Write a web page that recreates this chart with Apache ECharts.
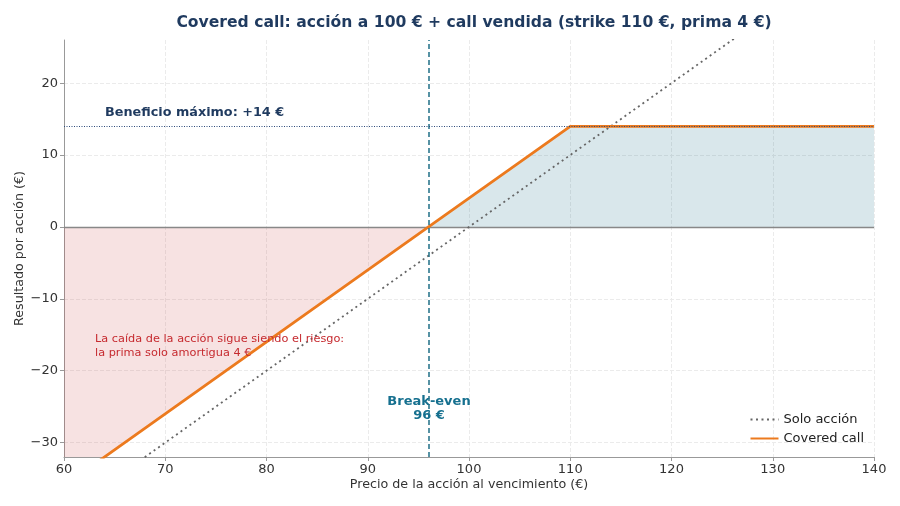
<!DOCTYPE html>
<html>
<head>
<meta charset="utf-8">
<script src="https://cdn.jsdelivr.net/npm/echarts@6/dist/echarts.min.js"></script>
<style>
  html, body { margin: 0; padding: 0; background: #fff; }
  #main { width: 900px; height: 506px; }
</style>
</head>
<body>
<div id="main"></div>
<script>
// datos del gráfico
var precios = [60, 96, 110, 140];
var soloAccion = [-40, -4, 10, 40];
var coveredCall = [-36, 0, 14, 14];
var yTicks = [-30, -20, -10, 0, 10, 20];
var yGrid = [-30, -20, -10, 10, 20];
var breakEven = 96;
var beneficioMax = 14;

function pares (xs, ys) {
  var out = [];
  for (var i = 0; i < xs.length; i++) out.push([xs[i], ys[i]]);
  return out;
}
function menos (v) {
  return String(v).replace('-', '\u2212');
}

var fuente = 'DejaVu Sans';
var dom = document.getElementById('main');
var myChart = echarts.init(dom);

var option = {
  animation: false,
  textStyle: { fontFamily: fuente },
  title: {
    text: 'Covered call: acción a 100 € + call vendida (strike 110 €, prima 4 €)',
    left: 469,
    textAlign: 'center',
    top: 10,
    textStyle: { fontFamily: fuente, fontSize: 15.6, fontWeight: 'bold', color: '#1f3a5f' }
  },
  grid: { left: 64, right: 26, top: 40, bottom: 49 },
  legend: {
    orient: 'vertical',
    right: 31,
    bottom: 56,
    itemWidth: 28,
    itemHeight: 12,
    itemGap: 6,
    itemStyle: { opacity: 0 },
    textStyle: { fontFamily: fuente, fontSize: 13, color: '#222' },
    data: ['Solo acción', 'Covered call']
  },
  xAxis: {
    type: 'value',
    min: 60,
    max: 140,
    interval: 10,
    name: 'Precio de la acción al vencimiento (€)',
    nameLocation: 'middle',
    nameGap: 21,
    nameMoveOverlap: false,
    nameTextStyle: { fontSize: 12.7, color: '#333' },
    axisLine: { onZero: false, lineStyle: { color: '#999', width: 1 } },
    axisTick: { show: true, length: 4, lineStyle: { color: '#999' } },
    axisLabel: { fontSize: 13, color: '#333', margin: 6 },
    splitLine: { show: true, lineStyle: { color: '#ebebeb', type: 'dashed' } }
  },
  yAxis: {
    type: 'value',
    min: -32,
    max: 26,
    name: 'Resultado por acción (€)',
    nameLocation: 'middle',
    nameGap: 38,
    nameMoveOverlap: false,
    nameTextStyle: { fontSize: 12.7, color: '#333' },
    axisLine: { show: true, lineStyle: { color: '#999', width: 1 } },
    axisTick: { show: true, length: 4, customValues: yTicks, lineStyle: { color: '#999' } },
    axisLabel: { fontSize: 13, color: '#333', margin: 6, customValues: yTicks, formatter: menos },
    splitLine: { show: false }
  },
  series: [
    {
      // rejilla horizontal
      type: 'line',
      data: [],
      silent: true,
      z: 0,
      markLine: {
        symbol: 'none',
        silent: true,
        z: 0,
        label: { show: false },
        data: yGrid.map(function (v) {
          return { yAxis: v, lineStyle: { color: '#ebebeb', type: 'dashed', width: 1 } };
        })
      }
    },
    {
      type: 'line',
      data: pares(precios.slice(0, 2), coveredCall.slice(0, 2)),
      symbol: 'none',
      silent: true,
      z: 1,
      lineStyle: { width: 0 },
      areaStyle: { color: 'rgba(200,60,60,0.15)', opacity: 1, origin: 0 }
    },
    {
      type: 'line',
      data: pares(precios.slice(1), coveredCall.slice(1)),
      symbol: 'none',
      silent: true,
      z: 1,
      lineStyle: { width: 0 },
      areaStyle: { color: 'rgba(31,111,135,0.17)', opacity: 1, origin: 0 },
      markLine: {
        symbol: 'none',
        silent: true,
        z: 2,
        label: { show: false },
        data: [{ yAxis: 0, lineStyle: { color: '#888', type: 'solid', width: 1.3 } }]
      }
    },
    {
      name: 'Solo acción',
      type: 'line',
      data: pares(precios, soloAccion),
      symbol: 'none',
      z: 3,
      lineStyle: { color: '#666', width: 1.8, type: [2, 3.5] },
      itemStyle: { color: '#666' }
    },
    {
      name: 'Covered call',
      type: 'line',
      data: pares(precios, coveredCall),
      symbol: 'none',
      z: 4,
      lineStyle: { color: '#ec7a1e', width: 2.8 },
      itemStyle: { color: '#ec7a1e' },
      markLine: {
        symbol: 'none',
        silent: true,
        label: { show: false },
        data: [
          { xAxis: breakEven, lineStyle: { color: '#1f6f87', type: [5, 3], width: 1.5 } },
          { yAxis: beneficioMax, lineStyle: { color: '#2c4a7a', type: [1, 1.5], width: 1.2 } }
        ]
      }
    }
  ],
  graphic: [
    {
      type: 'text', left: 105, top: 106, z: 10,
      style: { text: 'Beneficio máximo: +14 €', font: 'bold 12.8px "DejaVu Sans"', fill: '#1f3a5f' }
    },
    {
      type: 'text', left: 95, top: 332, z: 10,
      style: {
        text: 'La caída de la acción sigue siendo el riesgo:\nla prima solo amortigua 4 €',
        font: '11.3px "DejaVu Sans"', fill: '#c62a2f', lineHeight: 14
      }
    },
    {
      type: 'text', x: 429, y: 395, z: 10,
      style: {
        text: 'Break-even\n96 €', align: 'center',
        font: 'bold 13px "DejaVu Sans"', fill: '#16708f', lineHeight: 14
      }
    }
  ]
};

myChart.setOption(option);
</script>
</body>
</html>
